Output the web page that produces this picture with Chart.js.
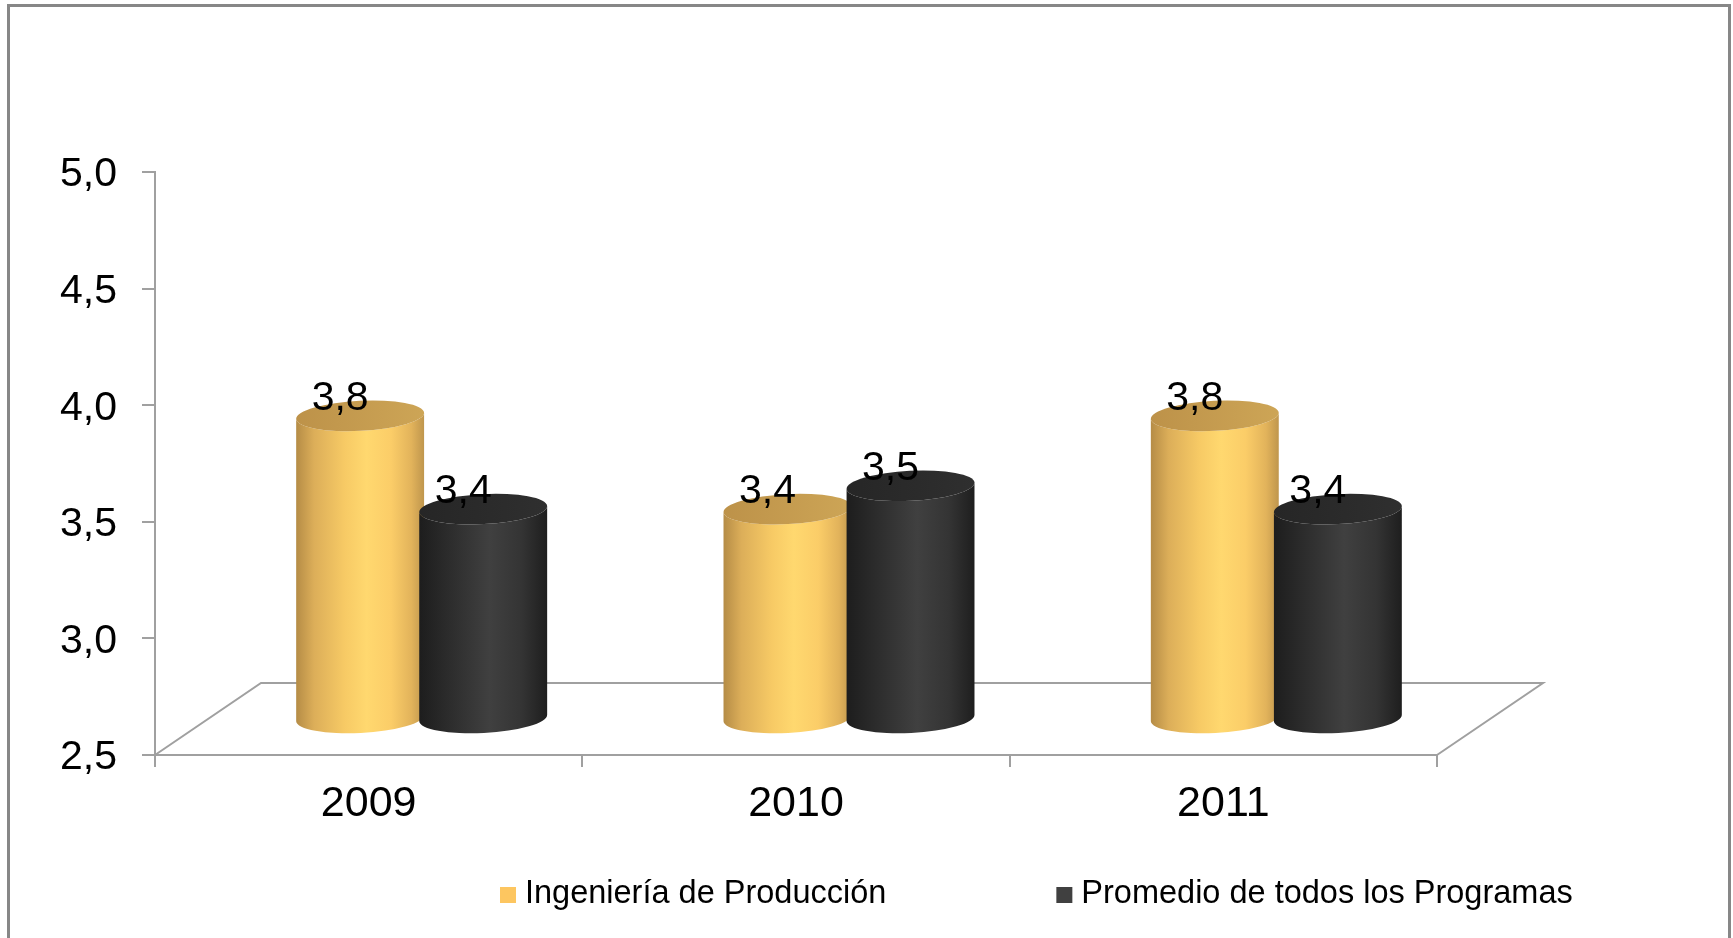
<!DOCTYPE html>
<html>
<head>
<meta charset="utf-8">
<script src="https://cdn.jsdelivr.net/npm/chart.js@4.4.1/dist/chart.umd.min.js"></script>
<style>
    html, body { margin: 0; padding: 0; background: #fff; }
    #wrap { width: 1733px; height: 938px; }
</style>
</head>
<body>
<div id="wrap"><canvas id="chart" width="1733" height="938"></canvas></div>
<script>
// Chart data
const years = ['2009', '2010', '2011'];
const ingenieria = [3.8, 3.4, 3.8];
const promedio = [3.4, 3.5, 3.4];
const seriesNames = ['Ingeniería de Producción', 'Promedio de todos los Programas'];
const yTicks = [2.5, 3.0, 3.5, 4.0, 4.5, 5.0];
const FLOOR_VALUE = 2.5;

const FONT = '"Liberation Sans", Arial, sans-serif';
const AXIS_GRAY = '#a0a0a0';

// Depth of the 3D floor; cylinders stand half way back
const DEPTH_X = 106;
const DEPTH_Y = 72;

// Cylinder shading for each series
const cylinderStyles = [
    {
        body: [[0, '#b58c46'], [0.14, '#dcae59'], [0.38, '#f7ca65'], [0.55, '#ffd86f'], [0.74, '#fbcd68'], [0.9, '#e2b35b'], [1, '#bf964d']],
        top: ['#bd9249', '#cda556'],
        swatch: '#fdc660'
    },
    {
        body: [[0, '#1d1d1d'], [0.2, '#2a2a2a'], [0.55, '#404040'], [0.8, '#343434'], [1, '#1e1e1e']],
        top: ['#262626', '#2f2f2f'],
        swatch: '#404040'
    }
];

const formatComma = v => Number(v).toFixed(1).replace('.', ',');

function drawCylinder(ctx, bar, style) {
    const p = bar.getProps(['x', 'y', 'base', 'width'], true);
    const cx = p.x + DEPTH_X / 2;
    const rx = p.width / 2 + 2.5;
    const ry = 15;
    const rot = -0.05;
    const topY = p.y - DEPTH_Y / 2;
    const botY = p.base - DEPTH_Y / 2;
    const cos = Math.cos(rot), sin = Math.sin(rot);

    // side of the cylinder
    const body = ctx.createLinearGradient(cx - rx, 0, cx + rx, 0);
    style.body.forEach(([o, c]) => body.addColorStop(o, c));
    ctx.beginPath();
    ctx.moveTo(cx - rx * cos, topY - rx * sin);
    ctx.lineTo(cx - rx * cos, botY - rx * sin);
    ctx.ellipse(cx, botY, rx, ry, rot, Math.PI, 0, true);
    ctx.lineTo(cx + rx * cos, topY + rx * sin);
    ctx.ellipse(cx, topY, rx, ry, rot, 0, Math.PI, false);
    ctx.closePath();
    ctx.fillStyle = body;
    ctx.fill();

    // top face
    const top = ctx.createLinearGradient(cx - rx, 0, cx + rx, 0);
    top.addColorStop(0, style.top[0]);
    top.addColorStop(1, style.top[1]);
    ctx.beginPath();
    ctx.ellipse(cx, topY, rx, ry, rot, 0, Math.PI * 2);
    ctx.fillStyle = top;
    ctx.fill();

    return { cx, topY };
}

const cylinderPlugin = {
    id: 'cylinders',
    beforeDraw(chart) {
        const ctx = chart.ctx;
        ctx.save();
        ctx.fillStyle = '#fff';
        ctx.fillRect(0, 0, chart.width, chart.height);
        // outer frame, open at the bottom edge
        ctx.strokeStyle = '#878787';
        ctx.lineWidth = 3;
        ctx.strokeRect(8.5, 5.5, 1721, 1000);
        ctx.restore();
    },
    beforeDatasetsDraw(chart) {
        const { ctx, chartArea: a } = chart;
        ctx.save();

        // floor outline
        ctx.strokeStyle = AXIS_GRAY;
        ctx.lineWidth = 2;
        ctx.beginPath();
        ctx.moveTo(a.left, a.bottom);
        ctx.lineTo(a.left + DEPTH_X, a.bottom - DEPTH_Y);
        ctx.lineTo(a.right + DEPTH_X, a.bottom - DEPTH_Y);
        ctx.lineTo(a.right, a.bottom);
        ctx.stroke();

        const tops = [];
        chart.data.datasets.forEach((ds, di) => {
            const meta = chart.getDatasetMeta(di);
            meta.data.forEach((bar, i) => {
                const t = drawCylinder(ctx, bar, cylinderStyles[di]);
                tops.push({ ...t, value: ds.data[i] });
            });
        });

        // value labels
        ctx.fillStyle = '#000';
        ctx.font = '41px ' + FONT;
        ctx.textAlign = 'center';
        ctx.textBaseline = 'alphabetic';
        tops.forEach(t => ctx.fillText(formatComma(t.value), t.cx - 20, t.topY - 6));

        ctx.restore();
        return false;
    },
    afterDraw(chart) {
        const ctx = chart.ctx;
        ctx.save();
        ctx.font = '32.5px ' + FONT;
        ctx.textAlign = 'left';
        ctx.textBaseline = 'alphabetic';
        let x = 500;
        chart.data.datasets.forEach((ds, i) => {
            ctx.fillStyle = cylinderStyles[i].swatch;
            ctx.fillRect(x, 887, 16, 16);
            ctx.fillStyle = '#000';
            ctx.fillText(ds.label, x + 25, 903);
            x += 25 + ctx.measureText(ds.label).width + 170;
        });
        ctx.restore();
    }
};

new Chart(document.getElementById('chart'), {
    type: 'bar',
    data: {
        labels: years,
        datasets: [
            { label: seriesNames[0], data: ingenieria, base: FLOOR_VALUE, backgroundColor: cylinderStyles[0].swatch },
            { label: seriesNames[1], data: promedio, base: FLOOR_VALUE, backgroundColor: cylinderStyles[1].swatch }
        ]
    },
    options: {
        responsive: false,
        animation: false,
        categoryPercentage: 0.576,
        barPercentage: 1,
        layout: {
            padding: { top: 172, right: 296, left: 0, bottom: 0 }
        },
        scales: {
            x: {
                grid: { drawOnChartArea: false, drawTicks: true, tickLength: 12, color: AXIS_GRAY, lineWidth: 2, offset: true },
                border: { display: true, color: AXIS_GRAY, width: 2 },
                ticks: { color: '#000', font: { family: FONT, size: 43 }, padding: 11 },
                afterFit(scale) { scale.height = 183; }
            },
            y: {
                min: FLOOR_VALUE,
                max: 5,
                afterBuildTicks(scale) { scale.ticks = yTicks.map(v => ({ value: v })); },
                grid: { drawOnChartArea: false, drawTicks: true, tickLength: 13, color: AXIS_GRAY, lineWidth: 2 },
                border: { display: true, color: AXIS_GRAY, width: 2 },
                ticks: {
                    color: '#000',
                    font: { family: FONT, size: 41 },
                    padding: 25,
                    labelOffset: 3,
                    callback: v => formatComma(v)
                },
                afterFit(scale) { scale.width = 155; }
            }
        },
        plugins: {
            legend: { display: false },
            tooltip: { enabled: false }
        }
    },
    plugins: [cylinderPlugin]
});
</script>
</body>
</html>
